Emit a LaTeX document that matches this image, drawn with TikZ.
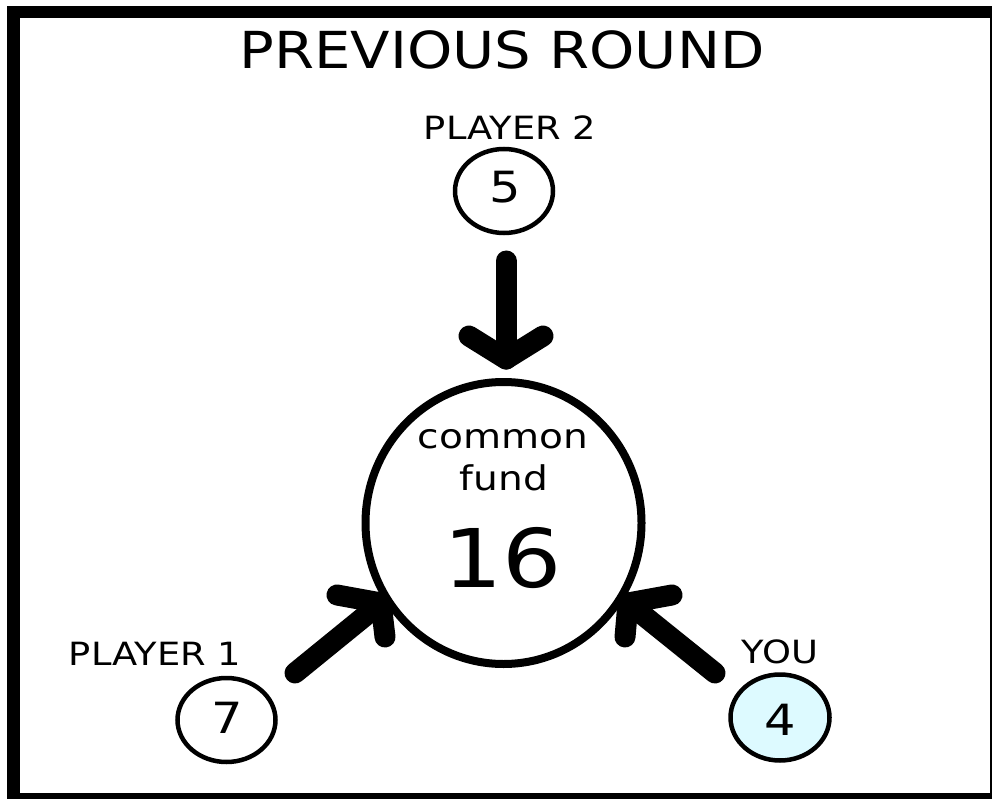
\documentclass[tikz,border=0pt]{standalone}
\usepackage{fontspec}
\usepackage{graphicx}
\setmainfont{DejaVu Sans}
\definecolor{youfill}{RGB}{221,250,255}
\begin{document}
\begin{tikzpicture}[x=1pt,y=-1pt,
  lbl/.style={anchor=base,inner sep=0pt,outer sep=0pt},
  small/.style={draw=black,line width=4.5pt},
  fat/.style={line width=21pt,line cap=round,line join=round,draw=black}]
\useasboundingbox (0,0) rectangle (992,799);
% frame
\fill[black] (7,6) rectangle (992,799);
\fill[white] (20,18) rectangle (990,793);
% title
\node[lbl] (title) at (502,69) {\scalebox{1.13}[1]{\fontsize{51}{51}\selectfont PREVIOUS ROUND}};
% centre
\draw[line width=8pt] (503.5,523) ellipse [x radius=138, y radius=141];
\coordinate (fund) at (503.5,523);
\node[lbl] (common) at (503,448) {\scalebox{1.15}[1]{\fontsize{34}{34}\selectfont common}};
\node[lbl] (fundt) at (504,490) {\scalebox{1.15}[1]{\fontsize{34}{34}\selectfont fund}};
\node[lbl] (total) at (503,587) {\scalebox{1.15}[1]{\fontsize{81}{81}\selectfont 16}};
% player 2
\node[lbl] (p2l) at (510,140) {\scalebox{1.15}[1]{\fontsize{32}{32}\selectfont PLAYER 2}};
\draw[small] (504,191) ellipse [x radius=49, y radius=42];
\coordinate (p2) at (504,191);
\node[lbl] at (505,203) {\scalebox{1.15}[1]{\fontsize{43}{43}\selectfont 5}};
% player 1
\node[lbl] (p1l) at (155,665) {\scalebox{1.15}[1]{\fontsize{32}{32}\selectfont PLAYER 1}};
\draw[small] (226.5,720) ellipse [x radius=49, y radius=42];
\coordinate (p1) at (226.5,720);
\node[lbl] at (227,733) {\scalebox{1.15}[1]{\fontsize{43}{43}\selectfont 7}};
% you
\node[lbl] (youl) at (780,663) {\scalebox{1.15}[1]{\fontsize{32}{32}\selectfont YOU}};
\draw[small,fill=youfill] (780,717.5) ellipse [x radius=49.5, y radius=43];
\coordinate (you) at (780,717.5);
\node[lbl] at (780,735) {\scalebox{1.15}[1]{\fontsize{43}{43}\selectfont 4}};
% arrows
\coordinate (a2s) at (506,261);
\coordinate (a2t) at (506,359);
\draw[fat] (a2s) -- (a2t);
\draw[fat] (469,336) -- (a2t) -- (543,336);
\coordinate (a1s) at (295,673);
\coordinate (a1t) at (381,603);
\draw[fat] (a1s) -- (a1t);
\draw[fat] (337,595) -- (a1t) -- (385,637);
\coordinate (a3s) at (715,673);
\coordinate (a3t) at (628,603);
\draw[fat] (a3s) -- (a3t);
\draw[fat] (672,595) -- (a3t) -- (625,637);
\end{tikzpicture}
\end{document}
